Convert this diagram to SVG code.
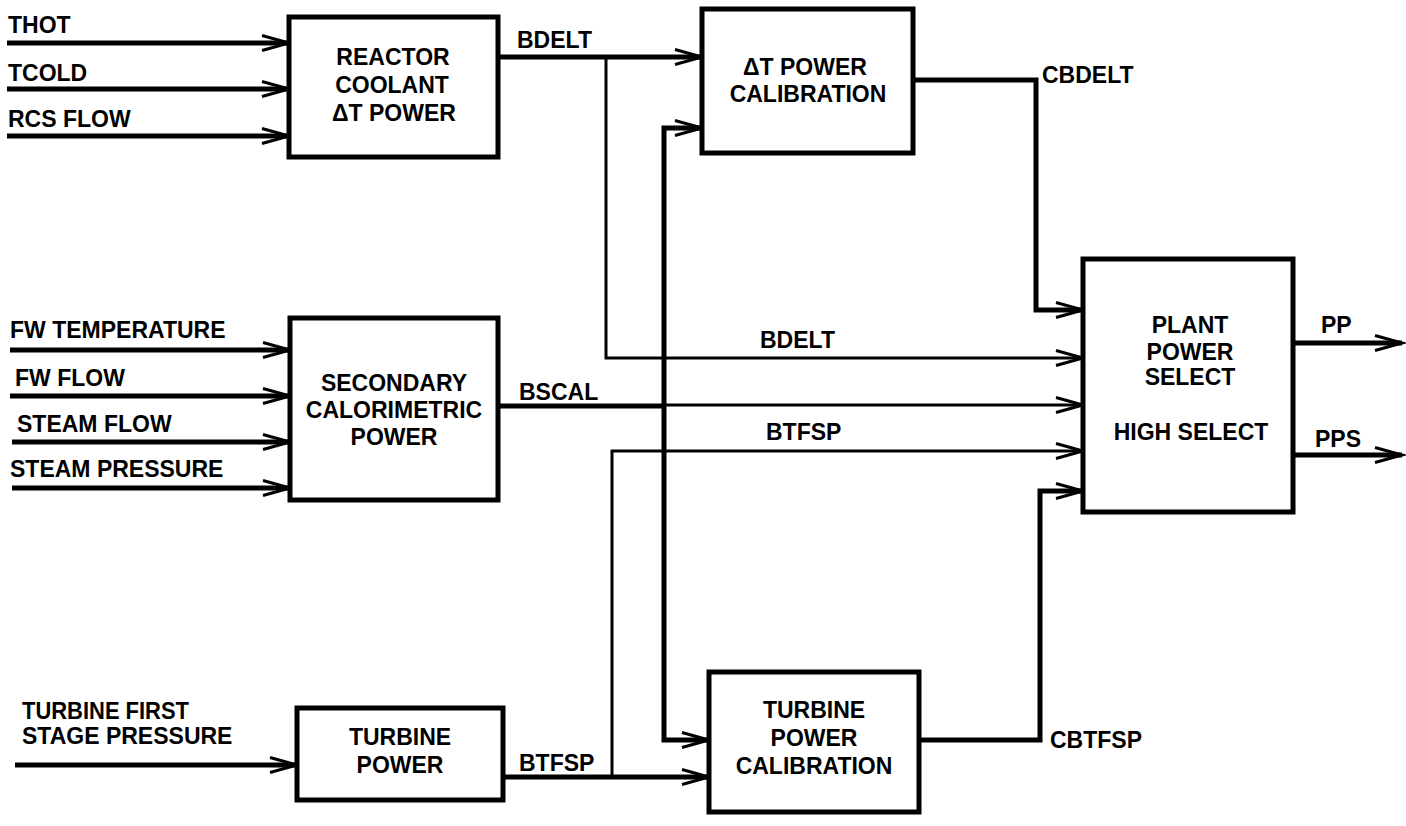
<svg xmlns="http://www.w3.org/2000/svg" width="1406" height="826" viewBox="0 0 1406 826">
<defs>
<marker id="arr" markerUnits="userSpaceOnUse" markerWidth="40" markerHeight="30" refX="0" refY="0" viewBox="-30 -15 40 30" orient="auto" overflow="visible">
<path d="M-27,-7.5 L0,0 L-27,7.5" fill="none" stroke="#000" stroke-width="3"/>
</marker>
<style>
.box{fill:#fff;stroke:#000;stroke-width:5}
.t{font-family:"Liberation Sans",Arial,sans-serif;font-size:23px;font-weight:bold;fill:#000}
.c{text-anchor:middle}
.thick{fill:none;stroke:#000;stroke-width:5}
.thin{fill:none;stroke:#000;stroke-width:3}
.a{marker-end:url(#arr)}
</style>
</defs>
<rect width="1406" height="826" fill="#fff"/>
<g id="connectors">
<path class="thick a" d="M7,43 H289"/>
<path class="thick a" d="M7,89 H289"/>
<path class="thick a" d="M7,136 H289"/>
<path class="thick a" d="M10,350 H290"/>
<path class="thick a" d="M10,396 H290"/>
<path class="thick a" d="M12,442 H290"/>
<path class="thick a" d="M12,488 H290"/>
<path class="thick a" d="M15,765 H297"/>
<path class="thick a" d="M498,57 H702"/>
<path class="thin a" d="M606,57 V358 H1083"/>
<path class="thick" d="M498,406 H664"/>
<path class="thin a" d="M664,405 H1083"/>
<path class="thick a" d="M664,405 V128 H702"/>
<path class="thick a" d="M664,405 V740 H709"/>
<path class="thick a" d="M503,777 H709"/>
<path class="thin a" d="M612,777 V451 H1083"/>
<path class="thick a" d="M913,80 H1036 V310 H1083"/>
<path class="thick a" d="M919,740 H1040 V491 H1083"/>
<path class="thick a" d="M1293,343 H1402"/>
<path class="thick a" d="M1293,455 H1402"/>
</g>
<g id="labels">
<text class="t" x="8" y="33">THOT</text>
<text class="t" x="8" y="81">TCOLD</text>
<text class="t" x="8" y="127">RCS FLOW</text>
<text class="t" x="10" y="338">FW TEMPERATURE</text>
<text class="t" x="15" y="386">FW FLOW</text>
<text class="t" x="17" y="432">STEAM FLOW</text>
<text class="t" x="10" y="477">STEAM PRESSURE</text>
<text class="t" x="22" y="719" textLength="167" lengthAdjust="spacingAndGlyphs">TURBINE FIRST</text>
<text class="t" x="22" y="744">STAGE PRESSURE</text>
<text class="t" x="517" y="48">BDELT</text>
<text class="t" x="1042" y="83">CBDELT</text>
<text class="t" x="760" y="348">BDELT</text>
<text class="t" x="519" y="400">BSCAL</text>
<text class="t" x="766" y="440">BTFSP</text>
<text class="t" x="519" y="771">BTFSP</text>
<text class="t" x="1050" y="748">CBTFSP</text>
<text class="t" x="1321" y="333">PP</text>
<text class="t" x="1315" y="447">PPS</text>
</g>
<g id="reactor">
<rect class="box" x="289" y="17" width="209" height="140"/>
<text class="t c" x="393" y="65">REACTOR</text>
<text class="t c" x="392" y="93">COOLANT</text>
<text class="t c" x="394" y="121">ΔT POWER</text>
</g>
<g id="dt-cal">
<rect class="box" x="702" y="9" width="211" height="144"/>
<text class="t c" x="805" y="75">ΔT POWER</text>
<text class="t c" x="808" y="102">CALIBRATION</text>
</g>
<g id="secondary">
<rect class="box" x="290" y="318" width="208" height="182"/>
<text class="t c" x="394" y="391">SECONDARY</text>
<text class="t c" x="394" y="418">CALORIMETRIC</text>
<text class="t c" x="394" y="445">POWER</text>
</g>
<g id="turbine">
<rect class="box" x="297" y="708" width="206" height="92"/>
<text class="t c" x="400" y="745">TURBINE</text>
<text class="t c" x="400" y="773">POWER</text>
</g>
<g id="turbine-cal">
<rect class="box" x="709" y="672" width="210" height="140"/>
<text class="t c" x="814" y="718">TURBINE</text>
<text class="t c" x="814" y="746">POWER</text>
<text class="t c" x="814" y="774">CALIBRATION</text>
</g>
<g id="plant">
<rect class="box" x="1083" y="259" width="210" height="253"/>
<text class="t c" x="1190" y="333">PLANT</text>
<text class="t c" x="1190" y="360">POWER</text>
<text class="t c" x="1190" y="385">SELECT</text>
<text class="t c" x="1191" y="440">HIGH SELECT</text>
</g>
</svg>
